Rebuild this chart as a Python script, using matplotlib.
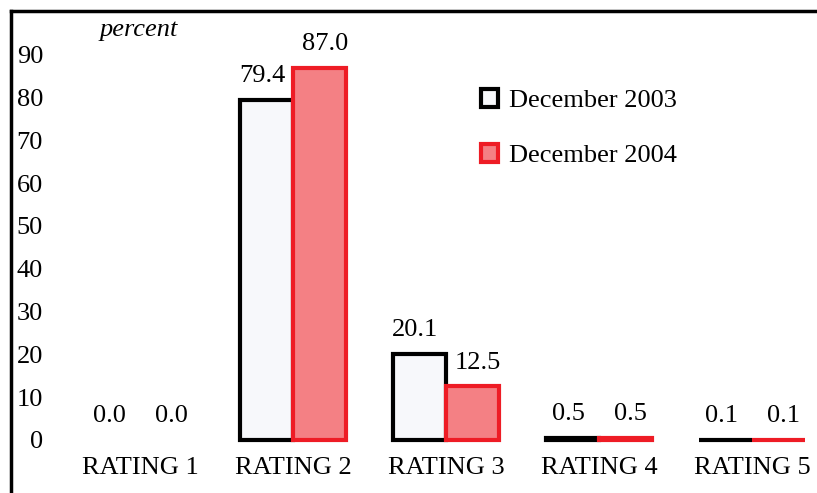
import matplotlib.pyplot as plt
from matplotlib.patches import Patch
from matplotlib.lines import Line2D
import numpy as np

categories = ["RATING 1", "RATING 2", "RATING 3", "RATING 4", "RATING 5"]
dec_2003 = [0.0, 79.4, 20.1, 0.5, 0.1]
dec_2004 = [0.0, 87.0, 12.5, 0.5, 0.1]
yticks = [0, 10, 20, 30, 40, 50, 60, 70, 80, 90]

plt.rcParams['font.family'] = ['Liberation Serif', 'DejaVu Serif']
FS = 19
W, H = 817, 493

fig = plt.figure(figsize=(W / 100, H / 100), dpi=100)
ax = fig.add_axes([50 / W, (H - 440) / H, (W - 50) / W, (440 - 11) / H])

x = np.arange(len(categories))
w = 0.344
lw1 = [3 if v > 0 else 0 for v in dec_2003]
lw2 = [3 if v > 0 else 0 for v in dec_2004]
ax.bar(x - w / 2, dec_2003, w, color='#f7f8fb', edgecolor='black',
       linewidth=lw1, clip_on=False, zorder=3)
ax.bar(x + w / 2, dec_2004, w, color='#f48084', edgecolor='#ee1c25',
       linewidth=lw2, clip_on=False, zorder=3)

# value labels
for i in range(len(categories)):
    ax.annotate(f"{dec_2003[i]:.1f}", (x[i] - w / 2, dec_2003[i]),
                xytext=(-3, 17), textcoords='offset points',
                ha='center', va='center', fontsize=FS)
    ax.annotate(f"{dec_2004[i]:.1f}", (x[i] + w / 2, dec_2004[i]),
                xytext=(4, 17), textcoords='offset points',
                ha='center', va='center', fontsize=FS)

ax.set_xlim(-0.588, 4.425)
ax.set_ylim(0, 100.2)
ax.set_xticks(x)
ax.set_xticklabels(categories, fontsize=FS)
ax.set_yticks(yticks)
ax.set_yticklabels([str(t) for t in yticks], fontsize=FS)
ax.tick_params(axis='both', length=0)
ax.tick_params(axis='x', pad=12)
ax.tick_params(axis='y', pad=5)
for s in ax.spines.values():
    s.set_visible(False)
ax.patch.set_alpha(0)

handles = [Patch(facecolor='#f7f8fb', edgecolor='black', linewidth=3),
           Patch(facecolor='#f48084', edgecolor='#ee1c25', linewidth=3)]
fig.legend(handles, ["December 2003", "December 2004"], loc='upper left',
           bbox_to_anchor=(468 / W, 1 - 76 / H), frameon=False, fontsize=FS,
           handlelength=0.65, handleheight=0.65, handletextpad=0.4,
           labelspacing=1.2, borderpad=0)

fig.text(100 / W, 1 - 30 / H, "percent", fontsize=FS, style='italic', va='center')

# frame lines
fig.add_artist(Line2D([11 / W, 1], [1 - 11 / H, 1 - 11 / H], color='black', lw=2.5))
fig.add_artist(Line2D([11 / W, 11 / W], [0, 1 - 11 / H], color='black', lw=2.5))

fig.savefig('out.png', dpi=100)
